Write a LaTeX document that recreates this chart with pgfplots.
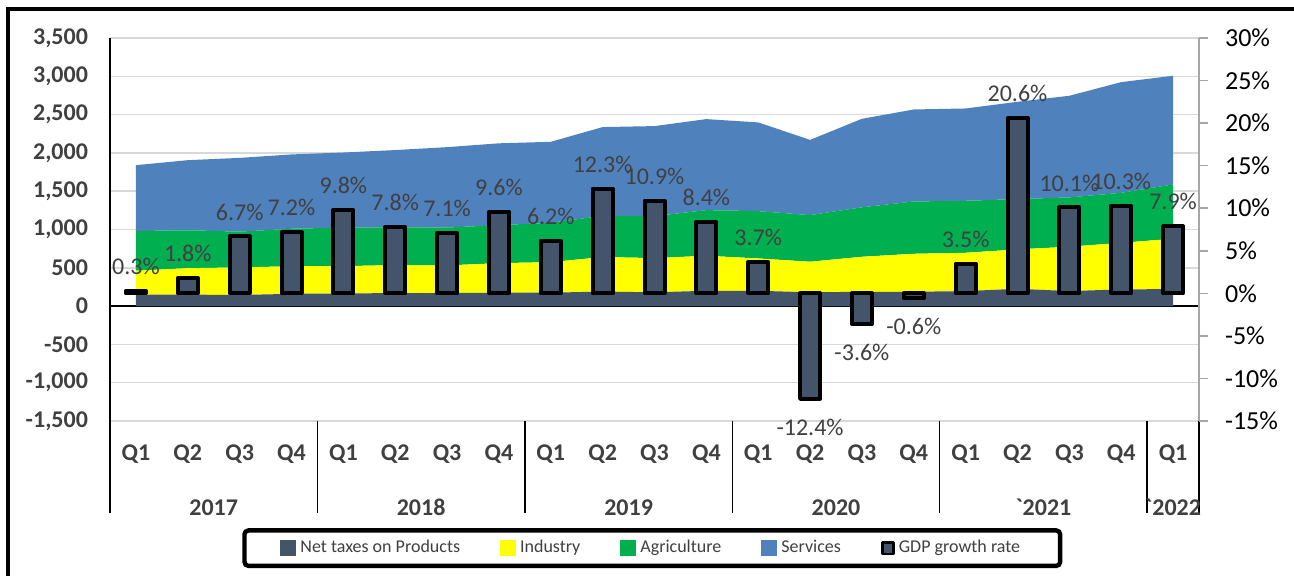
\documentclass[border=0pt]{standalone}
\usepackage{fontspec}
\setmainfont{Carlito}[Ligatures=TeXOff]
\usepackage{pgfplots}
\pgfplotsset{compat=1.18}
\definecolor{slate}{HTML}{44546A}
\definecolor{ind}{HTML}{FFFF00}
\definecolor{agr}{HTML}{00B050}
\definecolor{srv}{HTML}{4F81BD}
\definecolor{txt}{HTML}{404040}
\definecolor{gridc}{HTML}{D9D9D9}
\begin{document}
\begin{tikzpicture}
\path[use as bounding box] (0,0) rectangle (647pt,-288pt);
\clip (0,0) rectangle (647pt,-288pt);
\draw[line width=2pt] (4pt,-4.5pt) rectangle (700pt,-400pt);

% left axis with stacked areas
\begin{axis}[
  at={(55pt,-210.5pt)}, anchor=south west,
  scale only axis, width=544.5pt, height=191.5pt,
  xmin=-0.5, xmax=20.5, ymin=-1500, ymax=3500,
  stack plots=y,
  axis y line*=left, axis x line*=bottom,
  axis line style={-},
  x axis line style={draw=none},
  y axis line style={draw=black, line width=0.6pt},
  ytick={-1500,-1000,...,3500},
  yticklabels={{-1,500},{-1,000},-500,0,500,{1,000},{1,500},{2,000},{2,500},{3,000},{3,500}},
  ymajorgrids, grid style={gridc, line width=0.75pt},
  major tick length=0pt,
  yticklabel style={font=\bfseries\fontsize{12}{14}\selectfont, text=txt, anchor=east, xshift=-7.5pt},
  xtick={0,...,20},
  xticklabels={Q1,Q2,Q3,Q4,Q1,Q2,Q3,Q4,Q1,Q2,Q3,Q4,Q1,Q2,Q3,Q4,Q1,Q2,Q3,Q4,Q1},
  xticklabel style={font=\bfseries\fontsize{12}{14}\selectfont, text=txt, anchor=base, yshift=-19.5pt},
  extra x ticks={-0.5,3.5,7.5,11.5,15.5,19.5,20.5},
  extra x tick labels={},
  extra x tick style={major tick length=46pt, tick align=outside, major tick style={draw=black, line width=0.75pt}},
  extra y ticks={0}, extra y tick labels={},
  extra y tick style={grid style={black, line width=0.75pt}},
]
\addplot[fill=slate, draw=none] coordinates {
(0,150) (1,150) (2,145) (3,160) (4,165) (5,170) (6,170) (7,175) (8,175) (9,190) (10,180)
(11,200) (12,200) (13,180) (14,187) (15,187) (16,196) (17,226) (18,196) (19,218) (20,222)} \closedcycle;
\addplot[fill=ind, draw=none] coordinates {
(0,312) (1,345) (2,360) (3,360) (4,357) (5,365) (6,361) (7,386) (8,399) (9,450) (10,447)
(11,457) (12,422) (13,399) (14,457) (15,496) (16,500) (17,514) (18,579) (19,608) (20,657)} \closedcycle;
\addplot[fill=agr, draw=none] coordinates {
(0,518) (1,495) (2,467) (3,490) (4,503) (5,492) (6,494) (7,496) (8,514) (9,539) (10,548)
(11,596) (12,618) (13,609) (14,646) (15,683) (16,679) (17,657) (18,644) (19,653) (20,709)} \closedcycle;
\addplot[fill=srv, draw=none] coordinates {
(0,860) (1,915) (2,963) (3,970) (4,980) (5,1010) (6,1050) (7,1068) (8,1057) (9,1158) (10,1175)
(11,1188) (12,1158) (13,982) (14,1155) (15,1201) (16,1205) (17,1270) (18,1327) (19,1445) (20,1419)} \closedcycle;
\end{axis}

% right axis with GDP growth bars
\begin{axis}[
  at={(55pt,-210.5pt)}, anchor=south west,
  scale only axis, width=544.5pt, height=191.5pt,
  xmin=-0.5, xmax=20.5, ymin=-15, ymax=30,
  axis y line*=right, axis x line*=bottom,
  axis line style={-},
  x axis line style={draw=none},
  y axis line style={draw=gray!70, line width=0.75pt},
  ytick={-15,-10,...,30},
  yticklabels={-15\%,-10\%,-5\%,0\%,5\%,10\%,15\%,20\%,25\%,30\%},
  yticklabel style={font=\fontsize{13}{15}\selectfont, text=black, anchor=west, xshift=5pt},
  ytick style={draw=gray!70, line width=0.75pt},
  major tick length=4.5pt, tick align=outside,
  xtick={1.5,5.5,9.5,13.5,17.5,20},
  xticklabels={2017,2018,2019,2020,`2021,`2022},
  xtick style={draw=none},
  xticklabel style={font=\bfseries\fontsize{12}{14}\selectfont, text=txt, anchor=base, yshift=-42.5pt},
  ybar, bar width=10pt, bar shift=0pt,
  point meta=explicit symbolic,
  legend columns=5,
  legend style={at={(0.498,-0.332)}, anchor=center, draw=black, line width=2.2pt,
    rounded corners=2pt, font=\fontsize{9}{11}\selectfont, text=txt,
    inner xsep=18pt, inner ysep=3pt,
    /tikz/every even column/.append style={column sep=18pt}},
  legend cell align=left,
]
\addlegendimage{legend image code/.code={\fill[slate, sharp corners] (0pt,-2.9pt) rectangle (5.8pt,2.9pt);}}
\addlegendentry{Net taxes on Products}
\addlegendimage{legend image code/.code={\fill[ind, sharp corners] (0pt,-2.9pt) rectangle (5.8pt,2.9pt);}}
\addlegendentry{Industry}
\addlegendimage{legend image code/.code={\fill[agr, sharp corners] (0pt,-2.9pt) rectangle (5.8pt,2.9pt);}}
\addlegendentry{Agriculture}
\addlegendimage{legend image code/.code={\fill[srv, sharp corners] (0pt,-2.9pt) rectangle (5.8pt,2.9pt);}}
\addlegendentry{Services}
\addplot[fill=slate, draw=black, line width=2pt, line join=round,
  nodes near coords,
  every node near coord/.append style={font=\fontsize{12}{14}\selectfont, text=txt, anchor=south, yshift=4.7pt, line width=0pt},
  legend image code/.code={\draw[fill=slate, draw=black, line width=1.4pt, sharp corners, line join=round] (0.7pt,-2.9pt) rectangle (6.3pt,2.9pt);}]
coordinates {
(0,0.3) [0.3\%] (1,1.8) [1.8\%] (2,6.7) [6.7\%] (3,7.2) [7.2\%] (4,9.8) [9.8\%]
(5,7.8) [7.8\%] (6,7.1) [7.1\%] (7,9.6) [9.6\%] (8,6.2) [6.2\%] (9,12.3) [12.3\%]
(10,10.9) [10.9\%] (11,8.4) [8.4\%] (12,3.7) [3.7\%] (16,3.5) [3.5\%] (17,20.6) [20.6\%]
(18,10.1) [10.1\%] (19,10.3) [10.3\%] (20,7.9) [7.9\%]};
\addlegendentry{GDP growth rate}
\addplot[forget plot, fill=slate, draw=black, line width=2pt, line join=round,
  nodes near coords,
  every node near coord/.append style={font=\fontsize{12}{14}\selectfont, text=txt, anchor=north, yshift=-6.7pt, line width=0pt}]
coordinates {(13,-12.4) [-12.4\%] (14,-3.6) [-3.6\%] (15,-0.6) [-0.6\%]};
\end{axis}
\end{tikzpicture}
\end{document}
